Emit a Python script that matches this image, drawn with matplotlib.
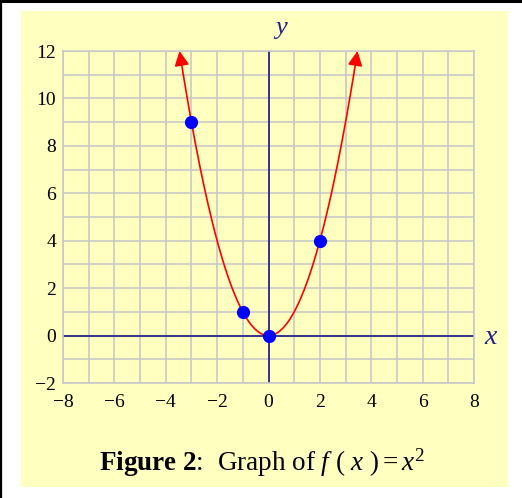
import numpy as np
import matplotlib.pyplot as plt
from matplotlib.patches import Rectangle
from matplotlib.lines import Line2D

# data
pts_x = [-3, -1, 0, 2]
pts_y = [9, 1, 0, 4]
x_ticks = [-8, -6, -4, -2, 0, 2, 4, 6, 8]
y_ticks = [-2, 0, 2, 4, 6, 8, 10, 12]
y_top = 12

plt.rcParams['font.family'] = ['Liberation Serif', 'DejaVu Serif']
plt.rcParams['mathtext.fontset'] = 'custom'
plt.rcParams['mathtext.rm'] = 'Liberation Serif'
plt.rcParams['mathtext.it'] = 'Liberation Serif:italic'
plt.rcParams['mathtext.bf'] = 'Liberation Serif:bold'

fig = plt.figure(figsize=(5.22, 4.98), dpi=100)
fig.patch.set_facecolor('white')

# yellow panel and black edge lines
fig.patches.append(Rectangle((21/522, 11/498), 487/522, 476/498, transform=fig.transFigure,
                             facecolor='#ffffc0', edgecolor='none', zorder=-5))
fig.lines.append(Line2D([0, 1], [1 - 1.5/498, 1 - 1.5/498], transform=fig.transFigure,
                        color='black', lw=2.2, zorder=-4))
fig.lines.append(Line2D([1/522, 1/522], [0, 1], transform=fig.transFigure,
                        color='black', lw=1.6, zorder=-4))

ax = fig.add_axes([63/522, 115/498, 411/522, 332/498])
ax.set_facecolor('none')
ax.set_xlim(-8, 8)
ax.set_ylim(-2, 12)

grid_c = '#c8c8c8'
for gx in range(-8, 9):
    ax.axvline(gx, color=grid_c, lw=1.2, zorder=1)
for gy in range(-2, 13):
    ax.axhline(gy, color=grid_c, lw=1.2, zorder=1)
for s in ax.spines.values():
    s.set_color(grid_c)
    s.set_linewidth(1.2)

ax.axhline(0, color='#34348c', lw=1.4, zorder=2)
ax.axvline(0, color='#34348c', lw=1.4, zorder=2)

ax.set_xticks(x_ticks)
ax.set_yticks(y_ticks)
ax.set_xticklabels([str(t).replace('-', '\u2212') for t in x_ticks])
ax.set_yticklabels([str(t).replace('-', '\u2212') for t in y_ticks])
ax.tick_params(length=0, labelsize=14, colors='black')
ax.tick_params(axis='x', pad=8)
ax.tick_params(axis='y', pad=5)

# curve f(x) = x^2
xe = np.sqrt(y_top)
xs = np.linspace(-xe + 0.15, xe - 0.15, 300)
ax.plot(xs, xs**2, color='red', lw=1.2, zorder=3)
for sgn in (-1, 1):
    x0 = sgn * (xe - 0.15)
    ax.annotate('', xy=(sgn * xe, y_top), xytext=(x0, x0**2),
                arrowprops=dict(arrowstyle='-|>', color='red', lw=1.2,
                                mutation_scale=22, shrinkA=0, shrinkB=0),
                annotation_clip=False, zorder=3)

ax.plot(pts_x, pts_y, 'o', color='#0000ff', markersize=8.5, zorder=4)

ax.text(0.5, 12.95, 'y', style='italic', color='#22228a', fontsize=19,
        ha='center', va='center', clip_on=False)
ax.text(8.65, -0.1, 'x', style='italic', color='#22228a', fontsize=20,
        ha='center', va='center', clip_on=False)

fig.text(262/522, 1 - 463/498, r'$\mathbf{Figure\ 2}$:  Graph of $f\ (\ x\ ) = x^2$',
         fontsize=19.5, ha='center', va='center')

fig.savefig('out.png', dpi=100)
